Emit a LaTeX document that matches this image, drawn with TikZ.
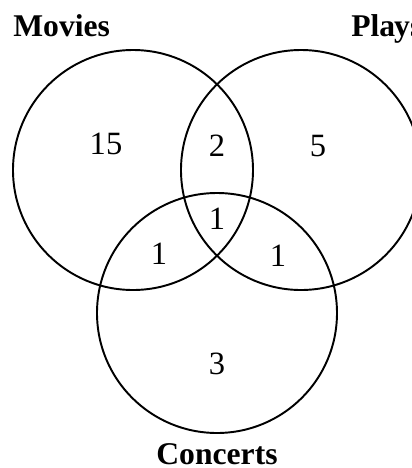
\documentclass[tikz,border=0pt]{standalone}
\usepackage{fontspec}
\setmainfont{Liberation Serif}
\tikzset{
  setcircle/.style={line width=1.1pt},
  setlabel/.style={font=\fontsize{18}{20}\selectfont\bfseries, inner sep=0pt},
  count/.style={font=\fontsize{18.5}{20}\selectfont, inner sep=0pt}
}
\begin{document}
\begin{tikzpicture}[x=0.02cm, y=-0.02cm]
    \useasboundingbox (0,0) rectangle (412,468);
    \clip (0,0) rectangle (412,468);
    % --- 三个集合 ---
    \draw[setcircle] (133,170) circle (120);
    \draw[setcircle] (301,170) circle (120);
    \draw[setcircle] (217,313) circle (120);

    % --- 集合名称 ---
    \node[setlabel, anchor=base west] (movies) at (13,36) {Movies};
    \node[setlabel, anchor=base west] (plays) at (351,36) {Pla\kern-0.6pt ys};
    \node[setlabel, anchor=base] (concerts) at (217,464) {Concerts};

    % --- 各区域人数 ---
    \node[count] (onlyM) at (106,144) {15};
    \node[count] (MP) at (217,146) {2};
    \node[count] (onlyP) at (318,146) {5};
    \node[count] (MPC) at (217,219) {1};
    \node[count] (MC) at (159,254) {1};
    \node[count] (PC) at (278,256) {1};
    \node[count] (onlyC) at (217,364) {3};
\end{tikzpicture}
\end{document}
